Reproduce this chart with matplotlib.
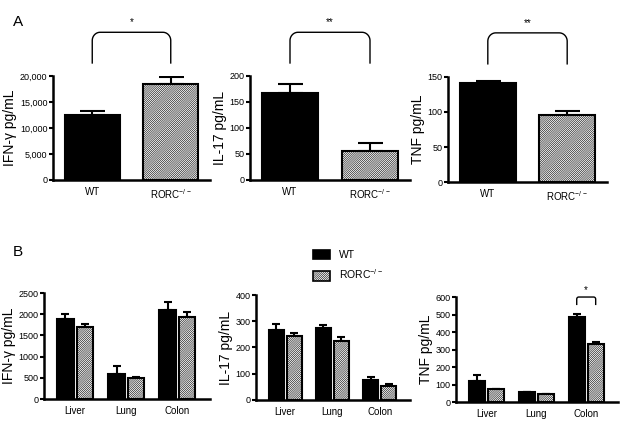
import matplotlib
matplotlib.use("Agg")
import matplotlib.pyplot as plt
from matplotlib.patches import Patch
import numpy as np

plt.rcParams['font.family'] = ['Liberation Sans', 'DejaVu Sans']
plt.rcParams['hatch.linewidth'] = 0.4
plt.rcParams['mathtext.default'] = 'regular'

# ---- data ----
groupsA = ["WT", "RORC$^{-/-}$"]
A_ifn = [12400, 18400]
A_ifn_err = [800, 1400]
A_il17 = [168, 56]
A_il17_err = [16, 16]
A_tnf = [141, 95]
A_tnf_err = [3, 6]

organs = ["Liver", "Lung", "Colon"]
B_ifn_wt = [1880, 600, 2100]
B_ifn_wt_err = [120, 170, 200]
B_ifn_ko = [1700, 490, 1930]
B_ifn_ko_err = [60, 25, 120]
B_il17_wt = [268, 275, 75]
B_il17_wt_err = [20, 10, 12]
B_il17_ko = [245, 226, 55]
B_il17_ko_err = [12, 15, 5]
B_tnf_wt = [120, 58, 487]
B_tnf_wt_err = [35, 2, 15]
B_tnf_ko = [72, 45, 330]
B_tnf_ko_err = [3, 2, 15]

HATCH = '/' * 16

fig = plt.figure(figsize=(6.25, 4.23), dpi=100)

def style(ax):
    for s in ['top', 'right']:
        ax.spines[s].set_visible(False)
    for s in ['left', 'bottom']:
        ax.spines[s].set_linewidth(1.8)
    ax.tick_params(axis='y', length=3, width=1.5, labelsize=6.5, pad=1)
    ax.tick_params(axis='x', length=0, labelsize=7, pad=5)

def bars(ax, x, vals, errs, width, hatched, capsize):
    ax.bar(x, vals, width=width, color='white' if hatched else 'black',
           edgecolor='black', linewidth=1.5, hatch=HATCH if hatched else None, zorder=2)
    ax.errorbar(x, vals, yerr=[np.zeros(len(vals)), errs], fmt='none',
                ecolor='black', elinewidth=1.5, capsize=capsize, capthick=1.5, zorder=1)

def bracket(ax, x0, x1, ybot, ytop, rx, ry, label, fs=7, gap=0.05, lw=1.0):
    trans = ax.get_xaxis_transform()
    t = np.linspace(0, np.pi / 2, 15)
    lx = list(np.full(2, x0)) + list(x0 + rx - rx * np.cos(t))
    ly = [ybot, ytop - ry] + list(ytop - ry + ry * np.sin(t))
    rxs = list(x1 - rx + rx * np.cos(t[::-1])) + [x1, x1]
    rys = list(ytop - ry + ry * np.sin(t[::-1])) + [ytop - ry, ybot]
    ax.plot(lx + rxs, ly + rys, color='black', lw=lw, transform=trans, clip_on=False)
    ax.text((x0 + x1) / 2, ytop + gap, label, ha='center', va='bottom', fontsize=fs,
            transform=trans)

# ---- Panel A ----
A_specs = [
    ([0.0848, 0.5745, 0.2512, 0.2459], A_ifn, A_ifn_err, 20000, 5000, "IFN-γ pg/mL", "*", True),
    ([0.400, 0.5745, 0.256, 0.2459], A_il17, A_il17_err, 200, 50, "IL-17 pg/mL", "**", False),
    ([0.717, 0.5697, 0.254, 0.2483], A_tnf, A_tnf_err, 150, 50, "TNF pg/mL", "**", False),
]
for rect, vals, errs, ymax, step, ylab, star, comma in A_specs:
    ax = fig.add_axes(rect)
    x = np.arange(2)
    for i in range(2):
        bars(ax, [x[i]], [vals[i]], [errs[i]], 0.7, i == 1, 9)
    ax.set_xlim(-0.5, 1.5)
    ax.set_ylim(0, ymax)
    ticks = np.arange(0, ymax + 1, step)
    ax.set_yticks(ticks)
    if comma:
        ax.set_yticklabels([f"{int(t):,}" for t in ticks])
    ax.set_xticks(x)
    ax.set_xticklabels(groupsA)
    ax.set_ylabel(ylab, fontsize=10, labelpad=2)
    style(ax)
    bracket(ax, 0.0, 1.0, 1.125, 1.42, 0.1, 0.08, star, gap=0.05)

# ---- Panel B ----
B_specs = [
    ([0.0704, 0.0567, 0.2656, 0.2503], B_ifn_wt, B_ifn_wt_err, B_ifn_ko, B_ifn_ko_err, 2500, 500, "IFN-γ pg/mL"),
    ([0.410, 0.0544, 0.246, 0.2482], B_il17_wt, B_il17_wt_err, B_il17_ko, B_il17_ko_err, 400, 100, "IL-17 pg/mL"),
    ([0.7296, 0.0496, 0.2594, 0.2482], B_tnf_wt, B_tnf_wt_err, B_tnf_ko, B_tnf_ko_err, 600, 100, "TNF pg/mL"),
]
axesB = []
for rect, wt, wte, ko, koe, ymax, step, ylab in B_specs:
    ax = fig.add_axes(rect)
    x = np.arange(3)
    bars(ax, x - 0.19, wt, wte, 0.32, False, 3)
    bars(ax, x + 0.19, ko, koe, 0.32, True, 3)
    ax.set_xlim(-0.61, 2.64)
    ax.set_ylim(0, ymax)
    ax.set_yticks(np.arange(0, ymax + 1, step))
    ax.set_xticks(x)
    ax.set_xticklabels(organs)
    ax.set_ylabel(ylab, fontsize=10, labelpad=2)
    style(ax)
    axesB.append(ax)

# bracket on TNF colon
bracket(axesB[2], 2 - 0.19, 2 + 0.19, 0.93, 1.0, 0.04, 0.02, "*", gap=0.02)

# legend
handles = [Patch(facecolor='black', edgecolor='black', linewidth=1.2),
           Patch(facecolor='white', edgecolor='black', linewidth=1.2, hatch=HATCH)]
fig.legend(handles, ["WT", "RORC$^{-/-}$"], loc='upper left', bbox_to_anchor=(0.485, 0.432),
           frameon=False, fontsize=7.5, handlelength=1.7, handleheight=1.0,
           labelspacing=0.75, handletextpad=0.8)

fig.text(0.02, 0.965, "A", fontsize=11, va='top')
fig.text(0.02, 0.42, "B", fontsize=11, va='top')

fig.savefig("out.png", dpi=100)
